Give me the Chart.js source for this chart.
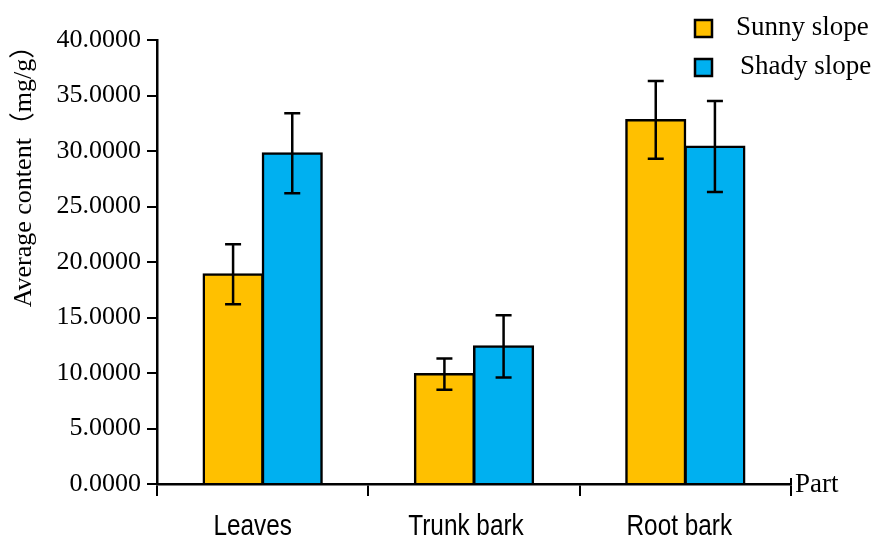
<!DOCTYPE html>
<html lang="en">
<head>
<meta charset="UTF-8">
<title>Average content by part</title>
<script src="https://cdn.jsdelivr.net/npm/chart.js"></script>
<style>
  html, body { margin: 0; padding: 0; background: #fff; }
  #wrap { width: 874px; height: 542px; }
</style>
</head>
<body>
<div id="wrap"><canvas id="chart" width="874" height="542"></canvas></div>
<script>
const parts = ['Leaves', 'Trunk bark', 'Root bark'];
const seriesNames = ['Sunny slope', 'Shady slope'];
const sunny = [18.9, 9.9, 32.8];
const sunnyErr = [2.7, 1.4, 3.5];
const shady = [29.8, 12.4, 30.4];
const shadyErr = [3.6, 2.8, 4.1];
const yTicks = [0, 5, 10, 15, 20, 25, 30, 35, 40];

const serif = '"Liberation Serif", "Noto Sans CJK SC", serif';
const sans = '"Liberation Sans", sans-serif';

// error bars drawn on top of each bar
const errorBars = {
  id: 'errorBars',
  afterDatasetsDraw(chart) {
    const ctx = chart.ctx;
    const y = chart.scales.y;
    const errs = [sunnyErr, shadyErr];
    ctx.save();
    ctx.strokeStyle = '#000';
    ctx.lineWidth = 2.5;
    chart.data.datasets.forEach((ds, i) => {
      chart.getDatasetMeta(i).data.forEach((bar, j) => {
        const v = ds.data[j], e = errs[i][j];
        const top = y.getPixelForValue(v + e), bot = y.getPixelForValue(v - e);
        ctx.beginPath();
        ctx.moveTo(bar.x, top); ctx.lineTo(bar.x, bot);
        ctx.moveTo(bar.x - 8, top); ctx.lineTo(bar.x + 8, top);
        ctx.moveTo(bar.x - 8, bot); ctx.lineTo(bar.x + 8, bot);
        ctx.stroke();
      });
    });
    ctx.restore();
  }
};

// legend, axis titles, condensed category labels
const extras = {
  id: 'extras',
  afterDraw(chart) {
    const ctx = chart.ctx;
    const area = chart.chartArea;
    const xs = chart.scales.x;
    ctx.save();
    ctx.fillStyle = '#000';
    ctx.textBaseline = 'middle';

    ctx.font = '29px ' + sans;
    ctx.textAlign = 'center';
    parts.forEach((p, i) => {
      ctx.save();
      ctx.translate(xs.getPixelForValue(i) - 10 + i * 2, 527);
      ctx.scale(0.84, 1);
      ctx.fillText(p, 0, 0);
      ctx.restore();
    });

    ctx.textAlign = 'left';
    ctx.font = '27px ' + serif;
    ctx.fillText('Part', area.right + 4, area.bottom + 1);

    // little end tick on the x axis
    ctx.strokeStyle = '#000';
    ctx.lineWidth = 2;
    ctx.beginPath();
    ctx.moveTo(area.right, area.bottom);
    ctx.lineTo(area.right, area.bottom - 6);
    ctx.stroke();

    ctx.save();
    ctx.translate(24, 170);
    ctx.rotate(-Math.PI / 2);
    ctx.textAlign = 'center';
    ctx.font = '26px ' + serif;
    ctx.fillText('Average content（mg/g）', 0, 0);
    ctx.restore();

    const colors = [chart.data.datasets[0].backgroundColor, chart.data.datasets[1].backgroundColor];
    const rows = [28, 67];
    seriesNames.forEach((name, i) => {
      ctx.fillStyle = colors[i];
      ctx.fillRect(695, rows[i] - 8, 17, 17);
      ctx.strokeStyle = '#000';
      ctx.lineWidth = 2.5;
      ctx.strokeRect(695, rows[i] - 8, 17, 17);
      ctx.fillStyle = '#000';
      ctx.font = '27px ' + serif;
      ctx.fillText(name, i === 0 ? 736 : 740, rows[i]);
    });
    ctx.restore();
  }
};

new Chart(document.getElementById('chart'), {
  type: 'bar',
  data: {
    labels: parts,
    datasets: [
      { label: seriesNames[0], data: sunny, backgroundColor: '#FFC000', borderColor: '#000', borderWidth: 2.5, inflateAmount: 1 },
      { label: seriesNames[1], data: shady, backgroundColor: '#00B0F0', borderColor: '#000', borderWidth: 2.5, inflateAmount: 1 }
    ]
  },
  options: {
    responsive: false,
    animation: false,
    layout: { padding: { top: 40, right: 83, left: 0, bottom: 0 } },
    datasets: { bar: { categoryPercentage: 0.56, barPercentage: 1 } },
    plugins: { legend: { display: false }, tooltip: { enabled: false } },
    scales: {
      x: {
        afterFit: s => { s.height = 58; },
        grid: { display: true, drawOnChartArea: false, tickLength: 12, color: '#000', lineWidth: 2, offset: true },
        border: { color: '#000', width: 2.5 },
        ticks: { display: false }
      },
      y: {
        min: 0, max: 40,
        afterFit: s => { s.width = 157; },
        afterBuildTicks: s => { s.ticks = yTicks.map(v => ({ value: v })); },
        grid: { display: true, drawOnChartArea: false, tickLength: 10, color: '#000', lineWidth: 2 },
        border: { color: '#000', width: 2.5 },
        ticks: { color: '#000', font: { family: serif, size: 26 }, padding: 6, callback: v => v.toFixed(4) }
      }
    }
  },
  plugins: [errorBars, extras]
});
</script>
</body>
</html>
